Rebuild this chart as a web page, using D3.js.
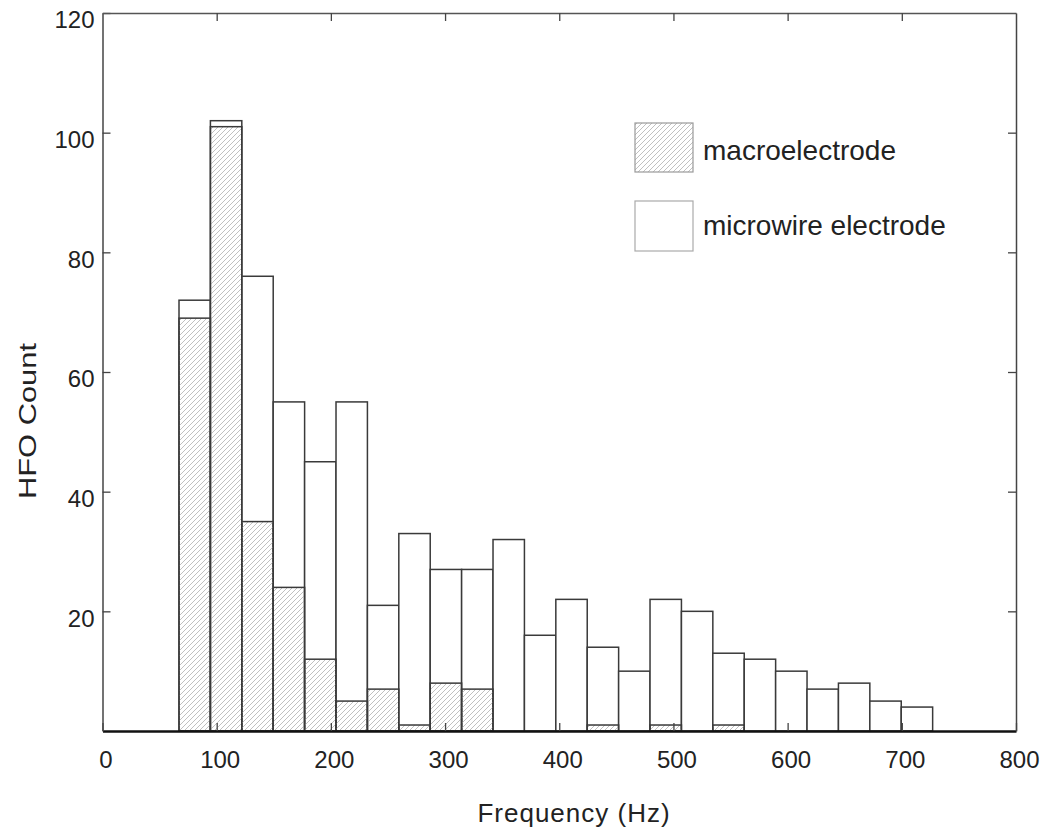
<!DOCTYPE html>
<html>
<head>
<meta charset="utf-8">
<script src="https://cdn.jsdelivr.net/npm/d3@7"></script>
<style>
  body { margin: 0; background: #fff; }
  text { font-family: "Liberation Sans", Arial, sans-serif; fill: #222; }
</style>
</head>
<body>
<script>
// histogram bins (left edge, Hz) and counts per electrode type
var binLeft = [67, 94.5, 122, 149.5, 177, 204.5, 232, 259.5, 287, 314.5, 342, 369.5,
               397, 424.5, 452, 479.5, 507, 534.5, 562, 589.5, 617, 644.5, 672, 699.5];
var binWidth = 27.5;
var microCounts = [72, 102, 76, 55, 45, 55, 21, 33, 27, 27, 32, 16,
                   22, 14, 10, 22, 20, 13, 12, 10, 7, 8, 5, 4];
var macroCounts = [69, 101, 35, 24, 12, 5, 7, 1, 8, 7, 0, 0,
                   0, 1, 0, 1, 0, 1, 0, 0, 0, 0, 0, 0];
var xTicks = [0, 100, 200, 300, 400, 500, 600, 700, 800];
var yTicks = [20, 40, 60, 80, 100, 120];
var legendLabels = ["macroelectrode", "microwire electrode"];

var svg = d3.select("body")
            .append("svg")
            .attr("width", 1050)
            .attr("height", 840);

var x = d3.scaleLinear().domain([0, 800]).range([102.5, 1016]);
var y = d3.scaleLinear().domain([0, 120]).range([731, 13]);

// hatch pattern for macroelectrode bars
svg.append("defs")
   .append("pattern")
   .attr("id", "hatch")
   .attr("patternUnits", "userSpaceOnUse")
   .attr("width", 5)
   .attr("height", 5)
   .append("path")
   .attr("d", "M-1,1 l2,-2 M0,5 l5,-5 M4,6 l2,-2")
   .attr("stroke", "#b0b0b0")
   .attr("stroke-width", 0.8);

var micro = binLeft.map(function(b, i) { return {x0: b, v: microCounts[i]}; });
var macro = binLeft.map(function(b, i) { return {x0: b, v: macroCounts[i]}; })
                   .filter(function(d) { return d.v > 0; });

svg.append("g")
   .selectAll("rect")
   .data(micro)
   .enter()
   .append("rect")
   .attr("x", function(d) { return x(d.x0); })
   .attr("width", function(d) { return x(d.x0 + binWidth) - x(d.x0); })
   .attr("y", function(d) { return y(d.v); })
   .attr("height", function(d) { return y(0) - y(d.v); })
   .attr("fill", "#fff")
   .attr("stroke", "#3a3a3a")
   .attr("stroke-width", 1.5);

svg.append("g")
   .selectAll("rect")
   .data(macro)
   .enter()
   .append("rect")
   .attr("x", function(d) { return x(d.x0); })
   .attr("width", function(d) { return x(d.x0 + binWidth) - x(d.x0); })
   .attr("y", function(d) { return y(d.v); })
   .attr("height", function(d) { return y(0) - y(d.v); })
   .attr("fill", "url(#hatch)")
   .attr("stroke", "#3a3a3a")
   .attr("stroke-width", 1.5);

// axes, ticks pointing inward on all four sides
var axisB = svg.append("g")
   .attr("transform", "translate(0," + y(0) + ")")
   .call(d3.axisBottom(x).tickValues(xTicks).tickSizeInner(-8).tickSizeOuter(0).tickPadding(20));
axisB.select(".domain").attr("stroke", "#111").attr("stroke-width", 2.5);

var axisL = svg.append("g")
   .attr("transform", "translate(" + x(0) + ",0)")
   .call(d3.axisLeft(y).tickValues(yTicks).tickSizeInner(-8).tickSizeOuter(0).tickPadding(8));
axisL.select(".domain").attr("stroke", "#444").attr("stroke-width", 1.5);

var axisT = svg.append("g")
   .attr("transform", "translate(0," + y(120) + ")")
   .call(d3.axisTop(x).tickValues(xTicks.slice(1, -1)).tickSizeInner(-8).tickSizeOuter(0).tickFormat(""));
axisT.select(".domain").attr("stroke", "#555").attr("stroke-width", 1.5);

var axisR = svg.append("g")
   .attr("transform", "translate(" + x(800) + ",0)")
   .call(d3.axisRight(y).tickValues(yTicks.slice(0, -1)).tickSizeInner(-8).tickSizeOuter(0).tickFormat(""));
axisR.select(".domain").attr("stroke", "#444").attr("stroke-width", 1.5);

svg.selectAll(".tick line").attr("stroke", "#444").attr("stroke-width", 1.3);
svg.selectAll(".tick text")
   .attr("font-family", "'Liberation Sans', Arial, sans-serif")
   .attr("font-size", 24)
   .attr("fill", "#222");
axisL.selectAll(".tick text").attr("dy", "0.62em");
axisB.selectAll(".tick text").attr("dx", 3);

// axis titles
svg.append("text")
   .attr("x", 574)
   .attr("y", 822)
   .attr("text-anchor", "middle")
   .attr("font-size", 26)
   .attr("letter-spacing", 1)
   .text("Frequency (Hz)");

svg.append("text")
   .attr("transform", "translate(36,421) rotate(-90)")
   .attr("text-anchor", "middle")
   .attr("font-size", 23)
   .attr("textLength", 156)
   .attr("lengthAdjust", "spacingAndGlyphs")
   .text("HFO Count");

// legend
var legend = svg.append("g");
legend.append("rect")
      .attr("x", 635).attr("y", 123).attr("width", 58).attr("height", 49)
      .attr("fill", "url(#hatch)").attr("stroke", "#999").attr("stroke-width", 1.2);
legend.append("rect")
      .attr("x", 635).attr("y", 201).attr("width", 58).attr("height", 50)
      .attr("fill", "#fff").attr("stroke", "#aaa").attr("stroke-width", 1.2);
legend.selectAll("text.leg")
      .data(legendLabels)
      .enter()
      .append("text")
      .attr("class", "leg")
      .attr("x", 703)
      .attr("y", function(d, i) { return 160 + i * 75; })
      .attr("font-size", 28)
      .text(function(d) { return d; });
</script>
</body>
</html>
